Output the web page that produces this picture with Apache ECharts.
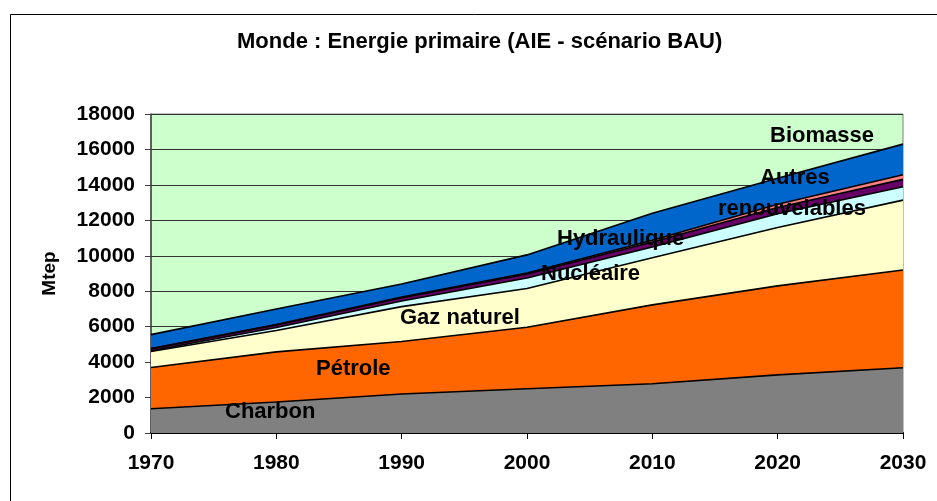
<!DOCTYPE html>
<html>
<head>
<meta charset="utf-8">
<script src="https://cdn.jsdelivr.net/npm/echarts@6/dist/echarts.min.js"></script>
<style>
	html, body { margin: 0; padding: 0; background: #fff; }
	#chart { width: 937px; height: 501px; }
</style>
</head>
<body>
<div id="chart"></div>
<script>
// years and energy sources (Mtep)
const years = ["1970", "1980", "1990", "2000", "2010", "2020", "2030"];
const charbon = [1370, 1750, 2200, 2500, 2780, 3280, 3680];
const petrole = [2330, 2830, 2960, 3470, 4450, 5020, 5520];
const gazNaturel = [900, 1200, 1970, 2180, 2660, 3300, 3940];
const nucleaire = [40, 170, 320, 600, 610, 770, 750];
const hydraulique = [110, 150, 185, 220, 280, 350, 420];
const autresRenouvelables = [20, 20, 35, 60, 100, 190, 260];
const biomasse = [780, 880, 740, 1020, 1520, 1460, 1730];

const font = "'Liberation Sans', Arial, sans-serif";

function area(name, data, color) {
	return {
		name: name,
		type: "line",
		stack: "total",
		data: data,
		symbol: "none",
		lineStyle: { color: "#000", width: 1.6 },
		areaStyle: { color: color, opacity: 1 }
	};
}

function label(text, x, y) {
	return {
		type: "text",
		left: x,
		top: y - 10,
		z: 100,
		style: {
			text: text,
			fill: "#000",
			font: "bold 22px " + font
		}
	};
}

const chart = echarts.init(document.getElementById("chart"));

const option = {
	backgroundColor: "#fff",
	animation: false,
	grid: {
		left: 151,
		top: 114,
		right: 34,
		bottom: 68,
		show: true,
		backgroundColor: "#CCFFCC",
		borderColor: "#808080",
		borderWidth: 1
	},
	xAxis: {
		type: "category",
		data: years,
		boundaryGap: false,
		axisLine: { lineStyle: { color: "#000", width: 2 } },
		axisTick: { show: true, length: 6, lineStyle: { color: "#000" } },
		axisLabel: {
			margin: 20,
			color: "#000",
			fontSize: 21,
			fontWeight: "bold",
			fontFamily: font
		},
		splitLine: { show: false }
	},
	yAxis: {
		type: "value",
		min: 0,
		max: 18000,
		interval: 2000,
		name: "Mtep",
		nameLocation: "middle",
		nameGap: 92,
		nameTextStyle: {
			color: "#000",
			fontSize: 19,
			fontWeight: "bold",
			fontFamily: font
		},
		axisLine: { show: true, lineStyle: { color: "#404040", width: 1.5 } },
		axisTick: { show: true, length: 6, lineStyle: { color: "#404040" } },
		axisLabel: {
			margin: 16,
			color: "#000",
			fontSize: 21,
			fontWeight: "bold",
			fontFamily: font,
			formatter: function (v) {
				return String(v);
			}
		},
		splitLine: { lineStyle: { color: "#333", width: 1 } }
	},
	series: [
		area("Charbon", charbon, "#808080"),
		area("Pétrole", petrole, "#FF6600"),
		area("Gaz naturel", gazNaturel, "#FFFFCC"),
		area("Nucléaire", nucleaire, "#CCFFFF"),
		area("Hydraulique", hydraulique, "#660066"),
		area("Autres renouvelables", autresRenouvelables, "#FF8080"),
		area("Biomasse", biomasse, "#0066CC")
	],
	graphic: [
		{
			type: "rect",
			left: 8,
			top: 12,
			z: -10,
			shape: { width: 960, height: 520 },
			style: { fill: "none", stroke: "#000", lineWidth: 1 }
		},
		{
			type: "text",
			left: 237,
			top: 31,
			style: {
				text: "Monde : Energie primaire (AIE - scénario BAU)",
				fill: "#000",
				font: "bold 22px " + font
			}
		},
		label("Biomasse", 770, 135),
		label("Autres", 760, 177),
		label("renouvelables", 718, 208),
		label("Hydraulique", 557, 238),
		label("Nucléaire", 541, 273),
		label("Gaz naturel", 400, 317),
		label("Pétrole", 316, 368),
		label("Charbon", 225, 411)
	]
};

option && chart.setOption(option);
</script>
</body>
</html>
